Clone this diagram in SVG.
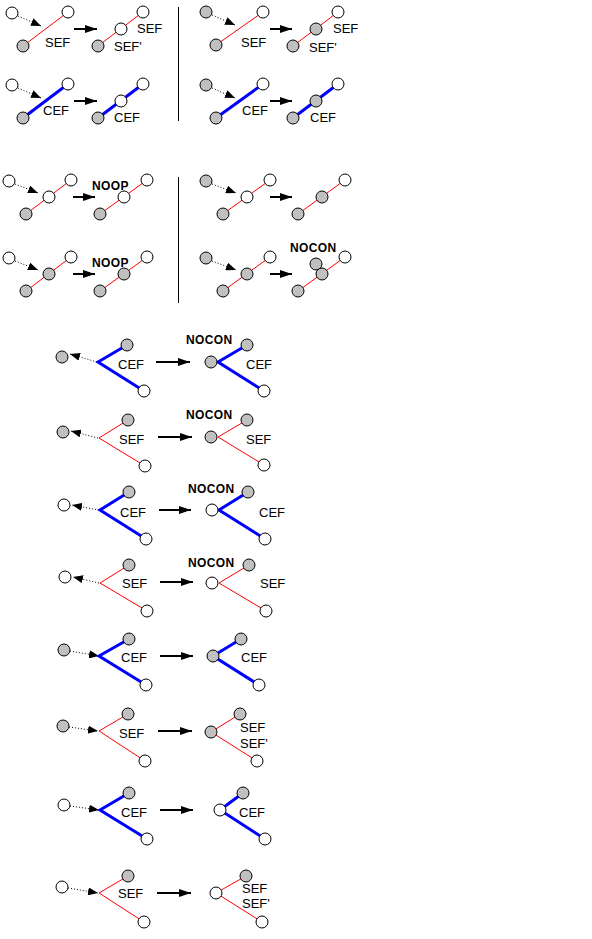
<svg xmlns="http://www.w3.org/2000/svg" width="592" height="939" viewBox="0 0 592 939">
<style>
.o{fill:#fff;stroke:#000;stroke-width:1}
.g{fill:#c0c0c0;stroke:#000;stroke-width:1}
.r{stroke:#f00;stroke-width:1;fill:none}
.b{stroke:#00f;stroke-width:3;fill:none;stroke-linejoin:miter}
.d{stroke:#000;stroke-width:1;stroke-dasharray:1 2;fill:none;marker-end:url(#dh)}
.a{stroke:#000;stroke-width:2;fill:none;marker-end:url(#ah)}
.sep{stroke:#000;stroke-width:1}
text{font-family:"Liberation Sans",Arial,sans-serif;font-size:13px;fill:#000}
.bt{font-weight:bold;font-size:12px;letter-spacing:0.4px}
</style>
<defs>
<marker id="ah" viewBox="0 0 12 8" markerWidth="12" markerHeight="8" refX="12" refY="4" orient="auto" markerUnits="userSpaceOnUse"><path d="M0,0 L12,4 L0,8 z" fill="#000"/></marker>
<marker id="dh" viewBox="0 0 10 8" markerWidth="10" markerHeight="8" refX="10" refY="4" orient="auto" markerUnits="userSpaceOnUse"><path d="M0,0 L10,4 L0,8 z" fill="#000"/></marker>
</defs>
<g id="separators">
<line class="sep" x1="178.5" y1="7" x2="178.5" y2="121"/>
<line class="sep" x1="178.5" y1="177" x2="178.5" y2="303"/>
</g>
<g id="connectors">
<line class="d" x1="18" y1="16" x2="41" y2="26"/>
<line class="a" x1="74" y1="29" x2="97" y2="29"/>
<line class="d" x1="18" y1="88" x2="41" y2="98"/>
<line class="a" x1="74" y1="101" x2="97" y2="101"/>
<line class="d" x1="212" y1="15" x2="235" y2="25"/>
<line class="a" x1="270" y1="29" x2="292" y2="29"/>
<line class="d" x1="212" y1="88" x2="235" y2="98"/>
<line class="a" x1="270" y1="101" x2="292" y2="101"/>
<line class="d" x1="15" y1="184" x2="38" y2="193"/>
<line class="a" x1="73" y1="197" x2="95" y2="197"/>
<line class="d" x1="15" y1="261" x2="38" y2="270"/>
<line class="a" x1="73" y1="274" x2="95" y2="274"/>
<line class="d" x1="212" y1="184" x2="236" y2="193"/>
<line class="a" x1="270" y1="197" x2="292" y2="197"/>
<line class="d" x1="212" y1="261" x2="236" y2="270"/>
<line class="a" x1="270" y1="274" x2="292" y2="274"/>
<line class="d" x1="97" y1="362" x2="70" y2="354"/>
<line class="a" x1="156" y1="362" x2="190" y2="362"/>
<line class="d" x1="98" y1="438" x2="71" y2="431"/>
<line class="a" x1="158" y1="437" x2="192" y2="437"/>
<line class="d" x1="99" y1="510" x2="72" y2="505"/>
<line class="a" x1="159" y1="510" x2="191" y2="510"/>
<line class="d" x1="99" y1="583" x2="73" y2="577"/>
<line class="a" x1="160" y1="582" x2="193" y2="582"/>
<line class="d" x1="70" y1="651" x2="99" y2="656"/>
<line class="a" x1="160" y1="656" x2="193" y2="656"/>
<line class="d" x1="69" y1="727" x2="98" y2="731"/>
<line class="a" x1="158" y1="731" x2="192" y2="731"/>
<line class="d" x1="70" y1="806" x2="99" y2="810"/>
<line class="a" x1="160" y1="810" x2="193" y2="810"/>
<line class="d" x1="68" y1="888" x2="98" y2="893"/>
<line class="a" x1="157" y1="893" x2="191" y2="893"/>
</g>
<g id="s1-before">
<line class="r" x1="23" y1="46" x2="68" y2="12"/>
<circle class="o" cx="12" cy="13" r="6"/><circle class="o" cx="68" cy="12" r="6"/><circle class="g" cx="23" cy="46" r="6"/>
<text x="45" y="47">SEF</text>
</g>
<g id="s1-after">
<line class="r" x1="98" y1="46" x2="143" y2="12"/>
<circle class="o" cx="121" cy="29" r="6"/><circle class="o" cx="143" cy="12" r="6"/><circle class="g" cx="98" cy="46" r="6"/>
<text x="137" y="33">SEF</text><text x="114" y="51">SEF'</text>
</g>
<g id="s2-before">
<line class="b" x1="23" y1="118" x2="68" y2="84"/>
<circle class="o" cx="12" cy="85" r="6"/><circle class="o" cx="68" cy="84" r="6"/><circle class="g" cx="23" cy="118" r="6"/>
<text x="43" y="115">CEF</text>
</g>
<g id="s2-after">
<line class="b" x1="98" y1="118" x2="143" y2="84"/>
<circle class="o" cx="121" cy="101" r="6"/><circle class="o" cx="143" cy="84" r="6"/><circle class="g" cx="98" cy="118" r="6"/>
<text x="114" y="122">CEF</text>
</g>
<g id="s3-before">
<line class="r" x1="216" y1="45" x2="263" y2="12"/>
<circle class="g" cx="206" cy="12" r="6"/><circle class="o" cx="263" cy="12" r="6"/><circle class="g" cx="216" cy="45" r="6"/>
<text x="241" y="47">SEF</text>
</g>
<g id="s3-after">
<line class="r" x1="293" y1="46" x2="338" y2="12"/>
<circle class="g" cx="316" cy="29" r="6"/><circle class="o" cx="338" cy="12" r="6"/><circle class="g" cx="293" cy="46" r="6"/>
<text x="333" y="33">SEF</text><text x="309" y="52">SEF'</text>
</g>
<g id="s4-before">
<line class="b" x1="216" y1="118" x2="263" y2="84"/>
<circle class="g" cx="206" cy="85" r="6"/><circle class="o" cx="263" cy="84" r="6"/><circle class="g" cx="216" cy="118" r="6"/>
<text x="242" y="115">CEF</text>
</g>
<g id="s4-after">
<line class="b" x1="293" y1="118" x2="338" y2="84"/>
<circle class="g" cx="316" cy="101" r="6"/><circle class="o" cx="338" cy="84" r="6"/><circle class="g" cx="293" cy="118" r="6"/>
<text x="310" y="122">CEF</text>
</g>
<g id="n1-before">
<line class="r" x1="26" y1="214" x2="71" y2="180"/>
<circle class="o" cx="9" cy="181" r="6"/><circle class="o" cx="49" cy="197" r="6"/><circle class="o" cx="71" cy="180" r="6"/><circle class="g" cx="26" cy="214" r="6"/>
</g>
<g id="n1-after">
<text class="bt" x="92" y="190">NOOP</text>
<line class="r" x1="100" y1="214" x2="147" y2="180"/>
<circle class="o" cx="124" cy="197" r="6"/><circle class="o" cx="147" cy="180" r="6"/><circle class="g" cx="100" cy="214" r="6"/>
</g>
<g id="n2-before">
<line class="r" x1="26" y1="291" x2="71" y2="257"/>
<circle class="o" cx="9" cy="258" r="6"/><circle class="g" cx="49" cy="274" r="6"/><circle class="o" cx="71" cy="257" r="6"/><circle class="g" cx="26" cy="291" r="6"/>
</g>
<g id="n2-after">
<text class="bt" x="92" y="267">NOOP</text>
<line class="r" x1="100" y1="291" x2="147" y2="257"/>
<circle class="g" cx="124" cy="274" r="6"/><circle class="o" cx="147" cy="257" r="6"/><circle class="g" cx="100" cy="291" r="6"/>
</g>
<g id="n3-before">
<line class="r" x1="223" y1="214" x2="270" y2="180"/>
<circle class="g" cx="206" cy="181" r="6"/><circle class="o" cx="247" cy="197" r="6"/><circle class="o" cx="270" cy="180" r="6"/><circle class="g" cx="223" cy="214" r="6"/>
</g>
<g id="n3-after">
<line class="r" x1="298" y1="214" x2="345" y2="180"/>
<circle class="g" cx="322" cy="197" r="6"/><circle class="o" cx="345" cy="180" r="6"/><circle class="g" cx="298" cy="214" r="6"/>
</g>
<g id="n4-before">
<line class="r" x1="223" y1="291" x2="270" y2="257"/>
<circle class="g" cx="206" cy="258" r="6"/><circle class="g" cx="247" cy="274" r="6"/><circle class="o" cx="270" cy="257" r="6"/><circle class="g" cx="223" cy="291" r="6"/>
</g>
<g id="n4-after">
<text class="bt" x="290" y="252">NOCON</text>
<line class="r" x1="298" y1="291" x2="345" y2="257"/>
<circle class="g" cx="316" cy="264" r="6"/><circle class="g" cx="322" cy="274" r="6"/><circle class="o" cx="345" cy="257" r="6"/><circle class="g" cx="298" cy="291" r="6"/>
</g>
<g id="v1-before">
<polyline class="b" points="127,345 98,362 144,391"/>
<circle class="g" cx="62" cy="357" r="6"/><circle class="g" cx="127" cy="345" r="6"/><circle class="o" cx="144" cy="391" r="6"/>
<text x="118" y="369">CEF</text>
</g>
<g id="v1-after">
<text class="bt" x="186" y="344">NOCON</text>
<polyline class="b" points="247,345 218,362 264,391"/>
<circle class="g" cx="211" cy="362" r="6"/><circle class="g" cx="247" cy="345" r="6"/><circle class="o" cx="264" cy="391" r="6"/>
<text x="246" y="369">CEF</text>
</g>
<g id="v2-before">
<polyline class="r" points="128,420 99,438 145,466"/>
<circle class="g" cx="63" cy="432" r="6"/><circle class="g" cx="128" cy="420" r="6"/><circle class="o" cx="145" cy="466" r="6"/>
<text x="119" y="444">SEF</text>
</g>
<g id="v2-after">
<text class="bt" x="186" y="419">NOCON</text>
<polyline class="r" points="247,420 218,437 264,465"/>
<circle class="g" cx="211" cy="437" r="6"/><circle class="g" cx="247" cy="420" r="6"/><circle class="o" cx="264" cy="465" r="6"/>
<text x="246" y="444">SEF</text>
</g>
<g id="v3-before">
<polyline class="b" points="129,492 100,510 146,539"/>
<circle class="o" cx="64" cy="505" r="6"/><circle class="g" cx="129" cy="492" r="6"/><circle class="o" cx="146" cy="539" r="6"/>
<text x="120" y="517">CEF</text>
</g>
<g id="v3-after">
<text class="bt" x="188" y="493">NOCON</text>
<polyline class="b" points="248,492 219,510 265,539"/>
<circle class="o" cx="212" cy="510" r="6"/><circle class="g" cx="248" cy="492" r="6"/><circle class="o" cx="265" cy="539" r="6"/>
<text x="259" y="517">CEF</text>
</g>
<g id="v4-before">
<polyline class="r" points="129,565 100,583 147,611"/>
<circle class="o" cx="65" cy="577" r="6"/><circle class="g" cx="129" cy="565" r="6"/><circle class="o" cx="147" cy="611" r="6"/>
<text x="122" y="588">SEF</text>
</g>
<g id="v4-after">
<text class="bt" x="188" y="567">NOCON</text>
<polyline class="r" points="249,565 219,583 266,611"/>
<circle class="o" cx="212" cy="583" r="6"/><circle class="g" cx="249" cy="565" r="6"/><circle class="o" cx="266" cy="611" r="6"/>
<text x="260" y="588">SEF</text>
</g>
<g id="v5-before">
<polyline class="b" points="129,639 99,656 146,685"/>
<circle class="g" cx="64" cy="650" r="6"/><circle class="g" cx="129" cy="639" r="6"/><circle class="o" cx="146" cy="685" r="6"/>
<text x="121" y="662">CEF</text>
</g>
<g id="v5-after">
<polyline class="b" points="241,639 213,656 259,685"/>
<circle class="g" cx="213" cy="656" r="6"/><circle class="g" cx="241" cy="639" r="6"/><circle class="o" cx="259" cy="685" r="6"/>
<text x="241" y="662">CEF</text>
</g>
<g id="v6-before">
<polyline class="r" points="128,714 99,731 145,761"/>
<circle class="g" cx="63" cy="726" r="6"/><circle class="g" cx="128" cy="714" r="6"/><circle class="o" cx="145" cy="761" r="6"/>
<text x="119" y="738">SEF</text>
</g>
<g id="v6-after">
<polyline class="r" points="240,714 211,732 257,761"/>
<circle class="g" cx="211" cy="732" r="6"/><circle class="g" cx="240" cy="714" r="6"/><circle class="o" cx="257" cy="761" r="6"/>
<text x="240" y="732">SEF</text><text x="240" y="748">SEF'</text>
</g>
<g id="v7-before">
<polyline class="b" points="129,793 100,810 147,839"/>
<circle class="o" cx="64" cy="805" r="6"/><circle class="g" cx="129" cy="793" r="6"/><circle class="o" cx="147" cy="839" r="6"/>
<text x="121" y="817">CEF</text>
</g>
<g id="v7-after">
<polyline class="b" points="243,793 220,810 265,839"/>
<circle class="o" cx="220" cy="810" r="6"/><circle class="g" cx="243" cy="793" r="6"/><circle class="o" cx="265" cy="839" r="6"/>
<text x="239" y="817">CEF</text>
</g>
<g id="v8-before">
<polyline class="r" points="128,876 99,893 144,922"/>
<circle class="o" cx="62" cy="887" r="6"/><circle class="g" cx="128" cy="876" r="6"/><circle class="o" cx="144" cy="922" r="6"/>
<text x="118" y="898">SEF</text>
</g>
<g id="v8-after">
<polyline class="r" points="246,876 216,893 262,922"/>
<circle class="o" cx="216" cy="893" r="6"/><circle class="g" cx="246" cy="876" r="6"/><circle class="o" cx="262" cy="922" r="6"/>
<text x="242" y="893">SEF</text><text x="242" y="908">SEF'</text>
</g>
</svg>
